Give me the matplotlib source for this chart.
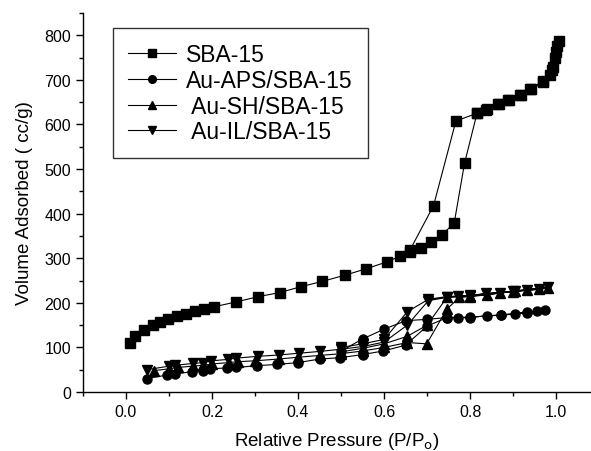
import numpy as np
import matplotlib
matplotlib.use("Agg")
import matplotlib.pyplot as plt
from matplotlib.ticker import MultipleLocator

plt.rcParams["font.family"] = ["Liberation Sans", "DejaVu Sans"]

# ---
# Isotherm data, adsorption then desorption
# ---

sba_ads_x = [0.009, 0.02, 0.041, 0.062, 0.079, 0.098, 0.118, 0.14, 0.16, 0.181, 0.204,
             0.256, 0.308, 0.357, 0.406, 0.456, 0.509, 0.557, 0.607, 0.636, 0.66, 0.685,
             0.709, 0.734, 0.763, 0.787, 0.816, 0.837, 0.867, 0.89, 0.918, 0.942, 0.97,
             0.985, 0.992, 0.997, 1.0, 1.003, 1.006]
sba_ads_y = [110, 125, 140, 150, 158, 164, 170, 176, 181, 186, 191,
             202, 214, 223, 236, 248, 262, 276, 292, 304, 315, 324,
             337, 352, 379, 513, 625, 633, 646, 655, 666, 679, 695,
             712, 730, 748, 762, 775, 787]
sba_des_x = [0.99, 0.97, 0.94, 0.915, 0.888, 0.865, 0.84, 0.816, 0.767, 0.715, 0.66]
sba_des_y = [722, 698, 680, 667, 656, 647, 635, 625, 608, 418, 318]

aps_ads_x = [0.048, 0.095, 0.114, 0.153, 0.179, 0.195, 0.234, 0.256, 0.304, 0.352, 0.40,
             0.451, 0.498, 0.55, 0.598, 0.65, 0.70, 0.747, 0.771, 0.80, 0.84, 0.871,
             0.904, 0.932, 0.955, 0.974]
aps_ads_y = [30, 38, 40, 46, 48, 52, 54, 55, 59, 62, 66,
             74, 77, 84, 92, 105, 148, 167, 166, 167, 171, 172,
             175, 178, 181, 183]
aps_des_x = [0.932, 0.871, 0.80, 0.747, 0.70, 0.651, 0.60, 0.55, 0.50]
aps_des_y = [179, 173, 168, 167, 163, 160, 141, 119, 92]

sh_ads_x = [0.065, 0.1, 0.12, 0.155, 0.18, 0.2, 0.24, 0.26, 0.3, 0.355, 0.4,
            0.45, 0.5, 0.55, 0.6, 0.654, 0.699, 0.746, 0.775, 0.80, 0.84, 0.87,
            0.905, 0.932, 0.96, 0.98]
sh_ads_y = [48, 52, 55, 58, 60, 63, 66, 68, 70, 74, 78,
            82, 86, 92, 100, 111, 108, 186, 212, 214, 218, 222,
            226, 228, 230, 233]
sh_des_x = [0.90, 0.80, 0.746, 0.70, 0.654, 0.60, 0.55, 0.50]
sh_des_y = [225, 215, 212, 150, 125, 108, 98, 90]

il_ads_x = [0.048, 0.1, 0.115, 0.155, 0.18, 0.198, 0.236, 0.256, 0.306, 0.355, 0.402,
            0.45, 0.5, 0.55, 0.6, 0.654, 0.703, 0.746, 0.772, 0.80, 0.837, 0.87,
            0.905, 0.932, 0.96, 0.982]
il_ads_y = [50, 58, 60, 64, 66, 70, 73, 76, 80, 83, 87,
            91, 96, 102, 112, 150, 205, 212, 215, 216, 221, 223,
            227, 229, 232, 236]
il_des_x = [0.9, 0.8, 0.746, 0.703, 0.654, 0.6, 0.55, 0.5]
il_des_y = [226, 217, 214, 208, 180, 118, 108, 100]

labels = ["SBA-15", "Au-APS/SBA-15", " Au-SH/SBA-15", " Au-IL/SBA-15"]
markers = ["s", "o", "^", "v"]

series = [
    (sba_ads_x + sba_des_x, sba_ads_y + sba_des_y),
    (aps_ads_x + aps_des_x, aps_ads_y + aps_des_y),
    (sh_ads_x + sh_des_x, sh_ads_y + sh_des_y),
    (il_ads_x + il_des_x, il_ads_y + il_des_y),
]

# ---
# Plot
# ---

fig = plt.figure(figsize=(5.91, 4.52), dpi=100)
ax = fig.add_axes([0.1404, 0.1305, 0.8596, 0.8385])

for (x, y), m, lab in zip(series, markers, labels):
    ax.plot(x, y, color="k", lw=0.8, marker=m, ms=6.5, mfc="k", mec="k", label=lab)

ax.set_xlim(-0.1, 1.081)
ax.set_ylim(0, 850)
ax.xaxis.set_minor_locator(MultipleLocator(0.1))
ax.yaxis.set_major_locator(MultipleLocator(100))
ax.yaxis.set_minor_locator(MultipleLocator(50))
ax.set_xticks([0.0, 0.2, 0.4, 0.6, 0.8, 1.0])
ax.set_xticklabels(["0.0", "0.2", "0.4", "0.6", "0.8", "1.0"])

for side in ["top", "right"]:
    ax.spines[side].set_visible(False)
for side in ["left", "bottom"]:
    ax.spines[side].set_linewidth(1.0)

ax.tick_params(which="major", direction="out", length=5, width=1, labelsize=11.5)
ax.tick_params(which="minor", direction="out", length=3, width=1)

ax.set_xlabel(r"Relative Pressure (P/P$_{\mathrm{o}}$)", fontsize=13.5, labelpad=8)
ax.set_ylabel("Volume Adsorbed ( cc/g)", fontsize=13.5, labelpad=8)

leg = ax.legend(loc="upper left", bbox_to_anchor=(0.059, 0.96), borderaxespad=0,
                fontsize=16.5, frameon=True, fancybox=False, edgecolor="k",
                handlelength=2.1, labelspacing=0.12, borderpad=0.65, handletextpad=0.45,
                markerscale=0.85)
leg.get_frame().set_linewidth(1.0)

fig.savefig("out.png", dpi=100)
